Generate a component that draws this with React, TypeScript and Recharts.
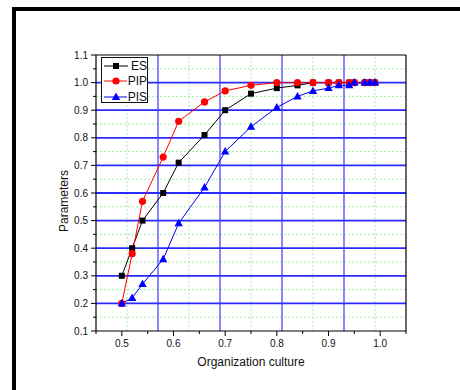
import React from 'react';
import {
  LineChart,
  Line,
  XAxis,
  YAxis,
  ReferenceLine,
  Legend,
} from 'recharts';

// organization culture values (x) and the three curves
const culture = [0.5, 0.52, 0.54, 0.58, 0.61, 0.66, 0.7, 0.75, 0.8, 0.84, 0.87, 0.9, 0.92, 0.94, 0.95, 0.97, 0.98, 0.99];
const esValues = [0.3, 0.4, 0.5, 0.6, 0.71, 0.81, 0.9, 0.96, 0.98, 0.99, 1.0, 1.0, 1.0, 1.0, 1.0, 1.0, 1.0, 1.0];
const pipValues = [0.2, 0.38, 0.57, 0.73, 0.86, 0.93, 0.97, 0.99, 1.0, 1.0, 1.0, 1.0, 1.0, 1.0, 1.0, 1.0, 1.0, 1.0];
const pisValues = [0.2, 0.22, 0.27, 0.36, 0.49, 0.62, 0.75, 0.84, 0.91, 0.95, 0.97, 0.98, 0.99, 0.99, 1.0, 1.0, 1.0, 1.0];

const xMajorTicks = [0.5, 0.6, 0.7, 0.8, 0.9, 1.0];
const xMinorTicks = [0.45, 0.55, 0.65, 0.75, 0.85, 0.95, 1.05];
const yMajorTicks = [0.1, 0.2, 0.3, 0.4, 0.5, 0.6, 0.7, 0.8, 0.9, 1.0, 1.1];
const yMinorTicks = [0.15, 0.25, 0.35, 0.45, 0.55, 0.65, 0.75, 0.85, 0.95, 1.05];

// grid lines as Origin drew them
const blueGridX = [0.57, 0.69, 0.81, 0.93];
const blueGridY = [0.2, 0.3, 0.4, 0.5, 0.6, 0.7, 0.8, 0.9, 1.0];
const greenGridX = [0.51, 0.63, 0.75, 0.87, 0.99];
const greenGridY = [0.15, 0.25, 0.35, 0.45, 0.55, 0.65, 0.75, 0.85, 0.95, 1.05];

const data = culture.map((x, i) => ({
  x,
  es: esValues[i],
  pip: pipValues[i],
  pis: pisValues[i],
}));

const FONT = '"Liberation Sans", Arial, sans-serif';

const sortNums = (a: number[]) => [...a].sort((p, q) => p - q);
const isIn = (v: number, arr: number[]) => arr.some((t) => Math.abs(t - v) < 1e-6);

const XTick = (props: any) => {
  const { x, y, payload } = props;
  const major = isIn(payload.value, xMajorTicks);
  return (
    <g>
      <line x1={x} x2={x} y1={y} y2={y + (major ? 5 : 3)} stroke="#000" />
      {major && (
        <text x={x} y={y + 16} textAnchor="middle" fontSize={10} fontFamily={FONT} fill="#111">
          {payload.value.toFixed(1)}
        </text>
      )}
    </g>
  );
};

const YTick = (props: any) => {
  const { x, y, payload } = props;
  const major = isIn(payload.value, yMajorTicks);
  return (
    <g>
      <line x1={x - (major ? 5 : 3)} x2={x} y1={y} y2={y} stroke="#000" />
      {major && (
        <text x={x - 8} y={y + 3.5} textAnchor="end" fontSize={10} fontFamily={FONT} fill="#111">
          {payload.value.toFixed(1)}
        </text>
      )}
    </g>
  );
};

const SquareDot = (props: any) => {
  const { cx, cy, index } = props;
  return <rect key={`s${index}`} x={cx - 3} y={cy - 3} width={6} height={6} fill="#000" />;
};
const CircleDot = (props: any) => {
  const { cx, cy, index } = props;
  return <circle key={`c${index}`} cx={cx} cy={cy} r={3.6} fill="#ff0000" />;
};
const TriangleDot = (props: any) => {
  const { cx, cy, index } = props;
  return (
    <polygon
      key={`t${index}`}
      points={`${cx},${cy - 4.5} ${cx + 4.2},${cy + 3} ${cx - 4.2},${cy + 3}`}
      fill="#0000ff"
    />
  );
};

const legendItems = [
  { label: 'ES', color: '#000', shape: 'square' },
  { label: 'PIP', color: '#ff0000', shape: 'circle' },
  { label: 'PIS', color: '#0000ff', shape: 'triangle' },
];

const renderLegend = () => (
  <div
    style={{
      border: '1px solid #111',
      background: '#fff',
      width: 47,
      height: 46,
      boxSizing: 'border-box',
      paddingTop: 0,
      fontFamily: FONT,
      fontSize: 12,
    }}
  >
    {legendItems.map((it) => (
      <div key={it.label} style={{ display: 'flex', alignItems: 'center', height: 15.5 }}>
        <svg width={26} height={12} style={{ marginLeft: 2 }}>
          <line x1={0} x2={24} y1={6} y2={6} stroke={it.color} strokeWidth={1} />
          {it.shape === 'square' && <rect x={9} y={3} width={6} height={6} fill={it.color} />}
          {it.shape === 'circle' && <circle cx={12} cy={6} r={3.6} fill={it.color} />}
          {it.shape === 'triangle' && <polygon points="12,1.5 16.2,9 7.8,9" fill={it.color} />}
        </svg>
        <span style={{ marginLeft: 1, lineHeight: '12px', color: '#111' }}>{it.label}</span>
      </div>
    ))}
  </div>
);

export default function App() {
  return (
    <div
      style={{
        position: 'absolute',
        left: 0,
        top: 0,
        width: 460,
        height: 390,
        overflow: 'hidden',
        background: '#fff',
      }}
    >
      {/* figure frame */}
      <div
        style={{
          position: 'absolute',
          left: 12,
          top: 7,
          width: 480,
          height: 420,
          borderLeft: '4px solid #000',
          borderTop: '4px solid #000',
        }}
      />
      <LineChart
        width={460}
        height={390}
        data={data}
        margin={{ top: 55, right: 54, bottom: 29, left: 56 }}
        style={{ position: 'absolute', left: 0, top: 0 }}
      >
        <XAxis
          type="number"
          dataKey="x"
          domain={[0.45, 1.05]}
          ticks={sortNums([...xMajorTicks, ...xMinorTicks])}
          interval={0}
          allowDataOverflow
          tickLine={false}
          tickSize={0}
          tickMargin={0}
          tick={XTick}
          axisLine={{ stroke: '#000', strokeWidth: 1.2 }}
          height={30}
        />
        <YAxis
          type="number"
          domain={[0.1, 1.1]}
          ticks={sortNums([...yMajorTicks, ...yMinorTicks])}
          interval={0}
          allowDataOverflow
          tickLine={false}
          tickSize={0}
          tickMargin={0}
          tick={YTick}
          axisLine={{ stroke: '#000', strokeWidth: 1.2 }}
          width={40}
        />
        {greenGridY.map((v) => (
          <ReferenceLine key={`gy${v}`} y={v} stroke="#9ef09e" strokeDasharray="2 2" zIndex={-10} />
        ))}
        {greenGridX.map((v) => (
          <ReferenceLine key={`gx${v}`} x={v} stroke="#9ef09e" strokeDasharray="2 2" zIndex={-10} />
        ))}
        {blueGridY.map((v) => (
          <ReferenceLine key={`by${v}`} y={v} stroke="#2a2aff" strokeWidth={1.8} zIndex={-5} />
        ))}
        {blueGridX.map((v) => (
          <ReferenceLine key={`bx${v}`} x={v} stroke="#3a3aff" strokeWidth={1.2} zIndex={-5} />
        ))}
        <ReferenceLine y={1.1} stroke="#000" strokeWidth={1.2} ifOverflow="visible" />
        <ReferenceLine x={1.05} stroke="#000" strokeWidth={1.2} ifOverflow="visible" />
        <Line
          dataKey="es"
          stroke="#000"
          strokeWidth={1}
          dot={SquareDot}
          activeDot={false}
          isAnimationActive={false}
        />
        <Line
          dataKey="pip"
          stroke="#ff0000"
          strokeWidth={1}
          dot={CircleDot}
          activeDot={false}
          isAnimationActive={false}
        />
        <Line
          dataKey="pis"
          stroke="#0000ff"
          strokeWidth={1}
          dot={TriangleDot}
          activeDot={false}
          isAnimationActive={false}
        />
        <Legend
          layout="vertical"
          align="center"
          verticalAlign="middle"
          content={renderLegend}
          wrapperStyle={{ left: 101, top: 57, width: 47 }}
        />
      </LineChart>
      <div
        style={{
          position: 'absolute',
          left: 151,
          top: 355,
          width: 200,
          textAlign: 'center',
          fontFamily: FONT,
          fontSize: 12,
          lineHeight: '14px',
          color: '#111',
        }}
      >
        Organization culture
      </div>
      <div
        style={{
          position: 'absolute',
          left: 13.5,
          top: 193.5,
          width: 100,
          height: 14,
          textAlign: 'center',
          fontFamily: FONT,
          fontSize: 12,
          lineHeight: '14px',
          color: '#111',
          transform: 'rotate(-90deg)',
        }}
      >
        Parameters
      </div>
    </div>
  );
}
